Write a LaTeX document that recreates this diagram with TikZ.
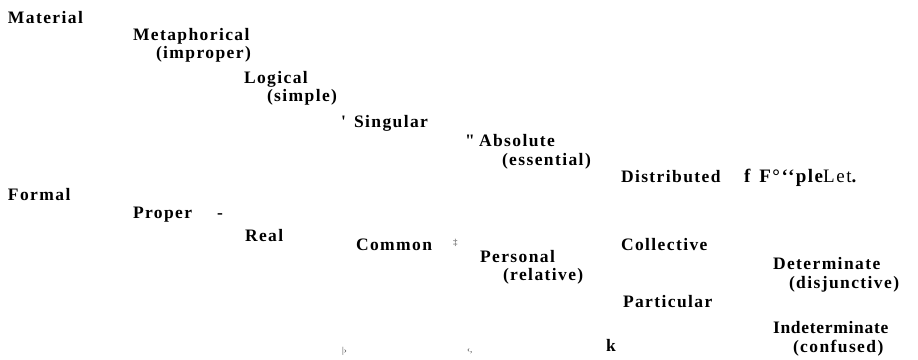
\documentclass[tikz,border=0pt]{standalone}
\usepackage{fontspec}
\newfontfamily\lbfamily[LetterSpace=8]{Liberation Serif}
\newfontfamily\plainfamily{Liberation Serif}
\newcommand\lbfont{\lbfamily\bfseries\fontsize{17.5}{20}\selectfont}
\newcommand\tinyfont{\plainfamily\fontsize{9}{10}\selectfont}
\tikzset{
  lbl/.style={anchor=base west, inner sep=0pt, outer sep=0pt, font=\lbfont},
  speck/.style={anchor=base west, inner sep=0pt, outer sep=0pt, font=\tinyfont, text=black!75},
}
\begin{document}
\begin{tikzpicture}[x=1pt,y=-1pt]
\useasboundingbox[fill=white] (0,0) rectangle (918,359);
\node[lbl] (material) at (8,23) {Material};
\node[lbl] (metaph) at (133,40) {Metaphorical};
\node[lbl] (improper) at (156,58) {(improper)};
\node[lbl] (logical) at (244,83) {Logical};
\node[lbl] (simple) at (267,101) {(simple)};
\node[lbl] (apos) at (341,127) {'};
\node[lbl] (singular) at (354,127) {Singular};
\node[lbl] (quot) at (465,146) {"};
\node[lbl] (absolute) at (479,146) {Absolute};
\node[lbl] (essential) at (502,165) {(essential)};
\node[lbl] (distrib) at (621,182) {Distributed};
\node[lbl, font=\lbfamily\bfseries\fontsize{19}{21}\selectfont] (garble) at (744,182) {f\hspace{9pt}F°‘‘ple{\mdseries Let}.};
\node[lbl] (formal) at (8,200) {Formal};
\node[lbl] (proper) at (133,218) {Proper};
\node[lbl] (dash) at (217,218) {-};
\node[lbl] (real) at (245,241) {Real};
\node[lbl] (common) at (356,250) {Common};
\node[speck] (ddag) at (453,245) {‡};
\node[lbl] (personal) at (480,262) {Personal};
\node[lbl] (relative) at (503,280) {(relative)};
\node[lbl] (collective) at (621,250) {Collective};
\node[lbl] (determ) at (773,269) {Determinate};
\node[lbl] (disjunct) at (789,288) {(disjunctive)};
\node[lbl] (particular) at (623,307) {Particular};
\node[lbl] (indeterm) at (773,333) {\addfontfeatures{LetterSpace=4}Indeterminate};
\node[lbl] (confused) at (793,352) {(confused)};
\node[speck] (barmark) at (342,353) {|›};
\node[speck] (anglemark) at (467,352) {‹,};
\node[lbl] (kmark) at (606,351) {k};
\end{tikzpicture}
\end{document}
